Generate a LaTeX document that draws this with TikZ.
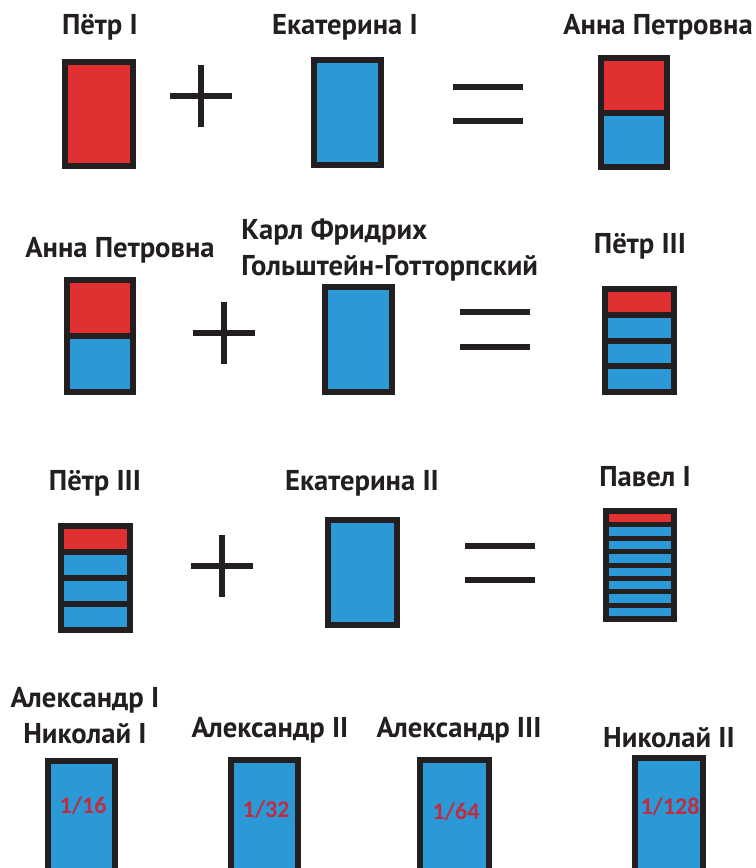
\documentclass[tikz,border=0pt]{standalone}
\usepackage{fontspec}
\setmainfont{PT Sans}
\newfontfamily\fracfont{Carlito}
\usepackage{xcolor}
\usepackage{tikz}
\usetikzlibrary{positioning}

\definecolor{genered}{RGB}{224,48,50}
\definecolor{geneblue}{RGB}{42,153,214}
\definecolor{geneblack}{RGB}{35,31,32}
\definecolor{fracred}{RGB}{190,45,65}

\tikzset{
  title/.style = {font=\fontsize{21.5}{24}\selectfont\bfseries, text=geneblack, inner sep=0pt},
  frac/.style = {font=\fracfont\fontsize{18}{20}\selectfont\bfseries, text=fracred, inner sep=0pt},
  signline/.style = {line width=3.8pt, geneblack}
}

% box with black frame: x0, y0, x1, y1, stripes, gap, colour of top stripe
\newcommand{\genebox}[7]{%
  \fill[geneblack] (#1, #2) rectangle (#3, #4);
  \pgfmathsetmacro{\stripeh}{(#4 - #2 - 12 - (#5 - 1) * #6) / #5}
  \foreach \k in {1, ..., #5} {
    \pgfmathsetmacro{\ytop}{#2 + 6 + (\k - 1) * (\stripeh + #6)}
    \pgfmathsetmacro{\ybot}{\ytop + \stripeh}
    \ifnum\k=1 \def\stripecol{#7}\else\def\stripecol{geneblue}\fi
    \fill[\stripecol] (#1 + 6, \ytop) rectangle (#3 - 6, \ybot);
  }
}

\newcommand{\plussign}[2]{%
  \draw[signline] (#1 - 31, #2) -- (#1 + 31, #2);
  \draw[signline] (#1, #2 - 31) -- (#1, #2 + 31);
}

\newcommand{\equalsign}[3]{%
  \draw[signline] (#1 - 35, #2) -- (#1 + 35, #2);
  \draw[signline] (#1 - 35, #3) -- (#1 + 35, #3);
}

\begin{document}
\begin{tikzpicture}[x = 0.75pt, y = -0.75pt]
  \clip (0, 0) rectangle (756, 868);
  \fill[white] (0, 0) rectangle (756, 868);

  % first row
  \node[title] (petr1) at (100, 27){
    Пётр I
  };
  \node[title] (ekat1) at (345, 27){
    Екатерина I
  };
  \node[title] (anna1) at (658, 27){
    Анна Петровна
  };

  \genebox{62}{59}{136}{169}{1}{6}{genered}
  \plussign{201}{96}
  \genebox{311}{57}{384}{168}{1}{6}{geneblue}
  \equalsign{488}{87}{121}
  \genebox{598}{55}{670}{170}{2}{6}{genered}

  % second row
  \node[title] (anna2) at (120, 250){
    Анна Петровна
  };
  \node[title, align=left, anchor=west] (karl) at (241, 250){
    Карл Фридрих\\[3pt]
    Гольштейн-Готторпский
  };
  \node[title] (petr3a) at (640, 246){
    Пётр III
  };

  \genebox{64}{277}{136}{395}{2}{6}{genered}
  \plussign{224}{333}
  \genebox{322}{284}{395}{395}{1}{6}{geneblue}
  \equalsign{495}{312}{347}
  \genebox{602}{286}{677}{395}{4}{6}{genered}

  % third row
  \node[title] (petr3b) at (95, 483){
    Пётр III
  };
  \node[title] (ekat2) at (362, 483){
    Екатерина II
  };
  \node[title] (pavel) at (645, 477){
    Павел I
  };

  \genebox{58}{523}{133}{633}{4}{6}{genered}
  \plussign{222}{566}
  \genebox{325}{517}{400}{628}{1}{6}{geneblue}
  \equalsign{500}{546}{580}
  \genebox{603}{508}{677}{622}{8}{5}{genered}

  % last row
  \node[title, align=center] (alex1) at (85, 716){
    Александр I\\[3pt]
    Николай I
  };
  \node[title] (alex2) at (270, 730){
    Александр II
  };
  \node[title] (alex3) at (459, 730){
    Александр III
  };
  \node[title] (nik2) at (669, 738){
    Николай II
  };

  \genebox{45}{758}{118}{900}{1}{6}{geneblue}
  \genebox{228}{757}{301}{900}{1}{6}{geneblue}
  \genebox{417}{757}{492}{900}{1}{6}{geneblue}
  \genebox{632}{755}{706}{900}{1}{6}{geneblue}

  \node[frac] (frac1) at (83, 806){1/16};
  \node[frac] (frac2) at (266, 810){1/32};
  \node[frac] (frac3) at (456, 812){1/64};
  \node[frac] (frac4) at (670, 807){1/128};
\end{tikzpicture}
\end{document}
